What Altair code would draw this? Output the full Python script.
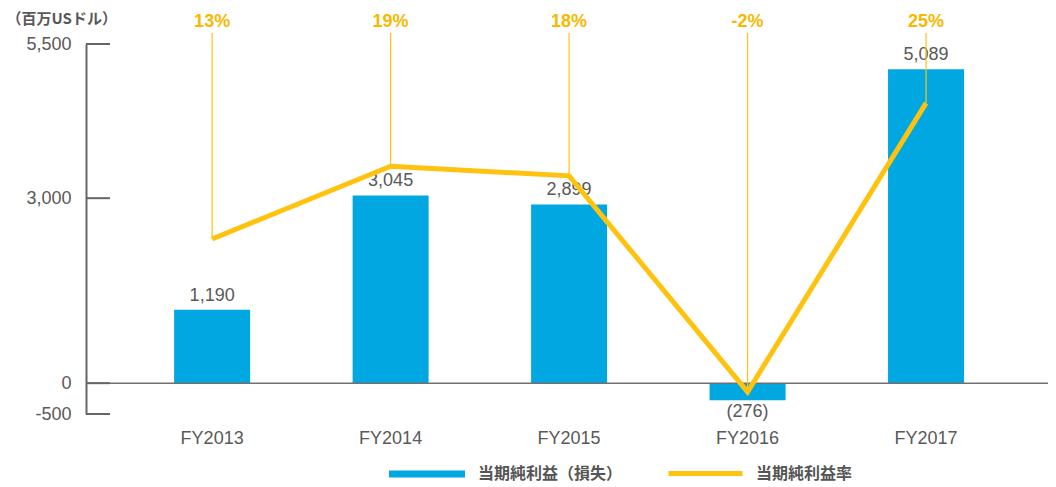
import altair as alt
import pandas as pd

years = ["FY2013", "FY2014", "FY2015", "FY2016", "FY2017"]
net_income = [1190, 3045, 2899, -276, 5089]
income_labels = ["1,190", "3,045", "2,899", "(276)", "5,089"]
ratio = [12.3, 19.1, 18.2, -2.0, 25.0]
ratio_labels = ["13%", "19%", "18%", "-2%", "25%"]
y_ticks = [-500, 0, 3000, 5500]
bar_name = "当期純利益（損失）"
line_name = "当期純利益率"
unit_title = "（百万USドル）"

BLUE = "#00A7E1"
YELLOW = "#FFC20E"
YELLOW_TXT = "#F7B800"
GRAY = "#595959"
NUM_FONT = "Liberation Sans"
JP_FONT = "Noto Sans CJK JP"

W, H = 962, 370

df = pd.DataFrame({
    "fy": years,
    "income": net_income,
    "income_label": income_labels,
    "ratio": ratio,
    "ratio_label": ratio_labels,
    "s_bar": [bar_name] * len(years),
    "s_line": [line_name] * len(years),
})
ticks_df = pd.DataFrame({"income": y_ticks})
zero_df = pd.DataFrame({"income": [0]})

x_enc = alt.X(
    "fy:N", sort=years,
    scale=alt.Scale(paddingInner=0, paddingOuter=0.195, align=0.53),
    axis=alt.Axis(title=None, domain=False, ticks=False, labelAngle=0,
                  labelFontSize=18, labelColor=GRAY, labelFont=NUM_FONT,
                  labelPadding=15),
)

y_scale = alt.Scale(domain=[-500, 5500], nice=False, zero=False)
y_axis = alt.Axis(
    values=y_ticks, grid=False, ticks=False,
    labelExpr="replace(format(datum.value, ','), '\u2212', '-')",
    labelFontSize=18, labelColor=GRAY, labelFont=NUM_FONT, labelPadding=15,
    domainColor="#666666", domainWidth=2,
    title=unit_title, titleAngle=0, titleX=-80, titleY=-26,
    titleAlign="left", titleBaseline="middle", titleFontSize=15,
    titleFontWeight="bold", titleColor=GRAY, titleFont=JP_FONT,
)
y_inc = alt.Y("income:Q", scale=y_scale, axis=y_axis)

bars = alt.Chart(df).mark_bar(size=76).encode(
    x=x_enc, y=y_inc,
    color=alt.Color(
        "s_bar:N",
        scale=alt.Scale(domain=[bar_name], range=[BLUE]),
        legend=alt.Legend(
            title=None, orient="none", legendX=303, legendY=392,
            symbolType="M-1,-0.095L1,-0.095L1,0.095L-1,0.095Z",
            symbolSize=5776, symbolStrokeWidth=0, symbolOpacity=1,
            labelFont=JP_FONT, labelFontSize=16, labelFontWeight="bold",
            labelColor="#555555", labelOffset=13,
        ),
    ),
)

zero_line = alt.Chart(zero_df).mark_rule(color="#707070", strokeWidth=1.5).encode(
    y=y_inc, x=alt.value(0), x2=alt.value(W)
)
tick_marks = alt.Chart(ticks_df).mark_rule(color="#666666", strokeWidth=2).encode(
    y=y_inc, x=alt.value(0), x2=alt.value(24)
)

lab_pos = alt.Chart(df).transform_filter(alt.datum.income >= 0).mark_text(
    fontSize=18, font=NUM_FONT, color=GRAY, baseline="alphabetic", dy=-9
).encode(x=x_enc, y=y_inc, text="income_label:N")
lab_neg = alt.Chart(df).transform_filter(alt.datum.income < 0).mark_text(
    fontSize=18, font=NUM_FONT, color=GRAY, baseline="middle", dy=12
).encode(x=x_enc, y=y_inc, text="income_label:N")

income_layer = alt.layer(bars, zero_line, tick_marks, lab_pos, lab_neg)

y_ratio = alt.Y("ratio:Q", scale=alt.Scale(domain=[-4.06, 30.52], nice=False, zero=False),
                axis=None)

vrules = alt.Chart(df).mark_rule(color=YELLOW, strokeWidth=1.2).encode(
    x=x_enc, y=y_ratio, y2=alt.value(-11)
)
line = alt.Chart(df).mark_line(strokeWidth=5, strokeJoin="miter").encode(
    x=x_enc, y=y_ratio,
    stroke=alt.Stroke(
        "s_line:N",
        scale=alt.Scale(domain=[line_name], range=[YELLOW]),
        legend=alt.Legend(
            title=None, orient="none", legendX=580, legendY=390,
            symbolType="stroke", symbolSize=5476, symbolStrokeWidth=5,
            labelFont=JP_FONT, labelFontSize=16, labelFontWeight="bold",
            labelColor="#555555", labelOffset=11,
        ),
    ),
)
top_labels = alt.Chart(df).mark_text(
    fontSize=18, fontWeight="bold", font=NUM_FONT, color=YELLOW_TXT, baseline="middle"
).encode(x=x_enc, y=alt.value(-22), text="ratio_label:N")

ratio_layer = alt.layer(vrules, line, top_labels)

chart = alt.layer(income_layer, ratio_layer).resolve_scale(
    y="independent", color="independent", stroke="independent"
).properties(
    width=W, height=H,
    padding={"left": 78, "top": 36, "right": 0, "bottom": 70},
    autosize=alt.AutoSizeParams(type="none"),
).configure_view(stroke=None)

chart.save("out.html", embed_options={"renderer": "svg", "actions": False})
